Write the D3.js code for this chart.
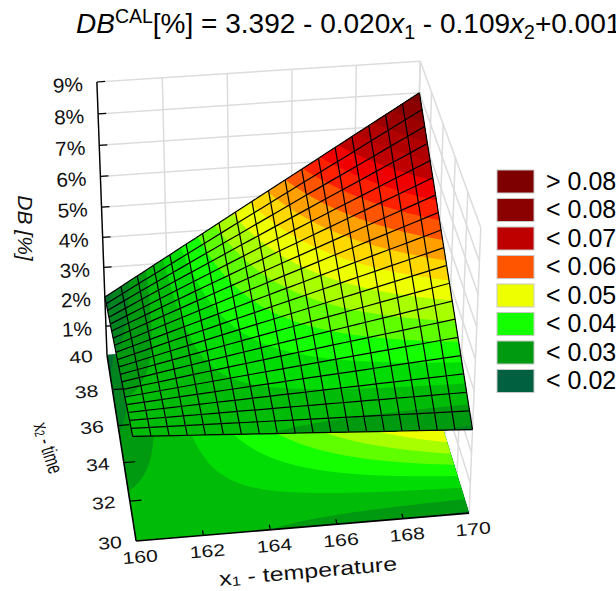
<!DOCTYPE html>
<html><head><meta charset="utf-8">
<script src="https://cdn.jsdelivr.net/npm/d3@7"></script>
<style>html,body{margin:0;padding:0;background:#fff;overflow:hidden}svg{display:block;font-family:"Liberation Sans",Arial,sans-serif}</style>
</head><body><svg id="c" width="616" height="591"></svg>
<script>
const x1Ticks=[160,162,164,166,168,170];
const x2Ticks=[30,32,34,36,38,40];
const zTicks=[1,2,3,4,5,6,7,8,9];
// fitted surface height: a + b*x1 + c*x2 + d*x1*x2 (fraction)
const modelCoef=[3.372,-0.0206,-0.1078,0.000665];
// fitted surface used for the colour classes
const colorCoef=[3.36298,-0.020615,-0.107464,0.000665];
const legendLabels=["> 0.08","< 0.08","< 0.07","< 0.06","< 0.05","< 0.04","< 0.03","< 0.02"];
const legendColors=["#7f0000","#8b0000","#bf0000","#ff5500","#eeff00","#14ff00","#009a10","#006040"];
const bandLevels=[0.02,0.0233,0.0267,0.03,0.0333,0.0367,0.04,0.0433,0.0467,0.05,0.0533,0.0567,0.06,0.0633,0.0667,0.07,0.0733,0.0767,0.08];
const bandColors=["#006040","#006e30","#008420","#009a10","#00bc08","#00dc04","#14ff00","#60ff00","#a8ff00","#eeff00","#ffd800","#ffa000","#ff5500","#ff2000","#f00000","#bf0000","#b00000","#9c0000","#8b0000","#7f0000"];
const meshLines=20;

const model=(a,b)=>modelCoef[0]+modelCoef[1]*a+modelCoef[2]*b+modelCoef[3]*a*b;
const colorModel=(a,b)=>colorCoef[0]+colorCoef[1]*a+colorCoef[2]*b+colorCoef[3]*a*b;
const sx1=d3.scaleLinear().domain([160,170]).range([0,1]);
const sx2=d3.scaleLinear().domain([30,40]).range([0,1]);
const sz=d3.scaleLinear().domain([0,9]).range([0,1]);
const bandColor=d3.scaleThreshold().domain(bandLevels).range(bandColors);

// camera calibration: unit-box corners -> picture position
const calib=[[0,1,0,107,355],[1,1,0,413,332],[0,0,0,136,541],[1,0,0,469,513],[0,1,1,97,82],[1,1,1,420,61],[1,0,1,481,228]];
function fit(){
  const A=[],B=[];
  calib.forEach(([u,v,w,X,Y])=>{
    A.push([u,v,w,1,0,0,0,0,-X*u,-X*v,-X*w]);B.push(X);
    A.push([0,0,0,0,u,v,w,1,-Y*u,-Y*v,-Y*w]);B.push(Y);
  });
  const n=11,M=[];
  for(let i=0;i<n;i++){M.push([]);for(let j=0;j<n;j++)M[i].push(d3.sum(A,r=>r[i]*r[j]));M[i].push(d3.sum(A,(r,k)=>r[i]*B[k]));}
  for(let i=0;i<n;i++){
    let p=i;for(let r=i+1;r<n;r++)if(Math.abs(M[r][i])>Math.abs(M[p][i]))p=r;
    [M[i],M[p]]=[M[p],M[i]];
    for(let r=0;r<n;r++)if(r!==i){const f=M[r][i]/M[i][i];for(let c=i;c<=n;c++)M[r][c]-=f*M[i][c];}
  }
  return M.map((r,i)=>r[n]/r[i]);
}
const P=fit();
const cam=(u,v,w)=>{const h=P[8]*u+P[9]*v+P[10]*w+1;return[(P[0]*u+P[1]*v+P[2]*w+P[3])/h,(P[4]*u+P[5]*v+P[6]*w+P[7])/h];};
const proj=(a,b,zPct)=>cam(sx1(a),sx2(b),sz(zPct));

const svg=d3.select("#c");
const line=d3.line();
const grey="#dcdcdc";
function seg(g,a,b,col,w){g.append("path").attr("d",line([a,b])).attr("stroke",col).attr("stroke-width",w).attr("fill","none");}

// walls
const walls=svg.append("g");
zTicks.concat([0]).forEach(z=>{
  seg(walls,proj(160,40,z),proj(170,40,z),grey,1.5);
  seg(walls,proj(170,40,z),proj(170,30,z),grey,1.5);
});
x1Ticks.forEach(a=>seg(walls,proj(a,40,0),proj(a,40,9),grey,1.5));
x2Ticks.forEach(b=>seg(walls,proj(170,b,0),proj(170,b,9),grey,1.5));

// colour bands
const n=200;
const grid=new Array(n*n);
for(let j=0;j<n;j++)for(let i=0;i<n;i++)grid[j*n+i]=colorModel(sx1.invert((i+.5)/n),sx2.invert((j+.5)/n));
const thresholds=[-1].concat(bandLevels);
const polys=d3.contours().size([n,n]).smooth(true).thresholds(thresholds)(grid);
function drawBands(g,toPixel){
  polys.forEach(c=>{
    if(!c.coordinates.length)return;
    const color=c.value<0?bandColors[0]:bandColor(c.value+0.0001);
    let d="";
    c.coordinates.forEach(poly=>poly.forEach(ring=>{
      d+=line(ring.map(([x,y])=>toPixel(sx1.invert(x/n),sx2.invert(y/n))))+"Z";
    }));
    g.append("path").attr("d",d).attr("fill",color).attr("fill-rule","evenodd");
  });
}
// floor contour
const floor=svg.append("g");
drawBands(floor,(a,b)=>proj(a,b,0));

// axes
const axes=svg.append("g");
seg(axes,proj(160,40,9),proj(160,40,0),"#000",1.4);
seg(axes,proj(160,40,0),proj(160,30,0),"#000",1.6);
seg(axes,proj(160,30,0),proj(170,30,0),"#000",1.6);
zTicks.forEach(z=>seg(axes,proj(160,40,z),proj(160.25,40,z),"#000",1.2));
x1Ticks.slice(1,-1).forEach(a=>seg(axes,proj(a,30,0),proj(a,30.25,0),"#000",1.2));
x2Ticks.slice(1,-1).forEach(b=>seg(axes,proj(160,b,0),proj(160.35,b,0),"#000",1.2));

// surface
const surf=svg.append("g");
drawBands(surf,(a,b)=>proj(a,b,model(a,b)*100));
const mesh=svg.append("g");
const ms=d3.range(meshLines).map(i=>i/(meshLines-1));
const K=24;
const surfLine=(f)=>line(d3.range(K+1).map(k=>{const [a,b]=f(k/K);return proj(a,b,model(a,b)*100);}));
ms.forEach(t=>{
  const a=sx1.invert(t),b=sx2.invert(t);
  mesh.append("path").attr("d",surfLine(s=>[a,sx2.invert(s)])).attr("fill","none").attr("stroke","#000").attr("stroke-width",1.2);
  mesh.append("path").attr("d",surfLine(s=>[sx1.invert(s),b])).attr("fill","none").attr("stroke","#000").attr("stroke-width",1.2);
});

// text helpers
function label(x,y,txt,size,rot,sxv){
  return svg.append("text").attr("transform",`translate(${x},${y}) rotate(${rot}) scale(${sxv},1)`)
    .attr("text-anchor","middle").attr("dominant-baseline","central").attr("font-size",size).attr("fill","#111").text(txt);
}
zTicks.forEach(z=>{const [x,y]=proj(160,40,z);label(x-29,y+3,z+"%",20,-3,1.04);});
x1Ticks.forEach(a=>{const [x,y]=proj(a,30,0);label(x+4,y+16,a,17,-5,1.25);});
x2Ticks.forEach(b=>{const [x,y]=proj(160,b,0);label(x-26,y+2,b,17,-5,1.25);});

// axis titles
const t1=svg.append("text").attr("transform","translate(308,571) rotate(-5) scale(1.25,1)").attr("text-anchor","middle").attr("dominant-baseline","central").attr("font-size",20).attr("fill","#111");
t1.append("tspan").text("x");t1.append("tspan").attr("font-size",13).attr("dy",4).text("1");t1.append("tspan").attr("dy",-4).text(" - temperature");
const t2=svg.append("text").attr("transform","translate(48,448) rotate(72) scale(0.82,1.22)").attr("text-anchor","middle").attr("dominant-baseline","central").attr("font-size",17.5).attr("fill","#111");
t2.append("tspan").text("x");t2.append("tspan").attr("font-size",11.5).attr("dy",3).text("2");t2.append("tspan").attr("dy",-3).text(" - time");
svg.append("text").attr("transform","translate(25,228) rotate(90)").attr("text-anchor","middle").attr("dominant-baseline","central").attr("font-size",21).attr("font-style","italic").attr("fill","#111").text("DB [%]");

// title
const T=svg.append("text").attr("x",76).attr("y",33).attr("font-size",28).attr("fill","#000");
T.append("tspan").attr("font-style","italic").text("DB");
T.append("tspan").attr("font-size",19.5).attr("dy",-10).text("CAL");
T.append("tspan").attr("dy",10).text("[%] = 3.392 - 0.020");
T.append("tspan").attr("font-style","italic").text("x");
T.append("tspan").attr("font-size",19.5).attr("dy",6).text("1");
T.append("tspan").attr("dy",-6).text(" - 0.109");
T.append("tspan").attr("font-style","italic").text("x");
T.append("tspan").attr("font-size",19.5).attr("dy",6).text("2");
T.append("tspan").attr("dy",-6).text("+0.001");

// legend
const lg=svg.append("g");
const ly=d3.scaleBand().domain(legendLabels).range([169.5,397.5]);
legendLabels.forEach((l,i)=>{
  lg.append("rect").attr("x",497).attr("y",ly(l)+.5).attr("width",37).attr("height",23).attr("fill",legendColors[i]).attr("stroke","#c8c8c8").attr("stroke-width",1);
  lg.append("text").attr("x",546).attr("y",ly(l)+20).attr("font-size",25).attr("fill","#000").text(l);
});
</script></body></html>
